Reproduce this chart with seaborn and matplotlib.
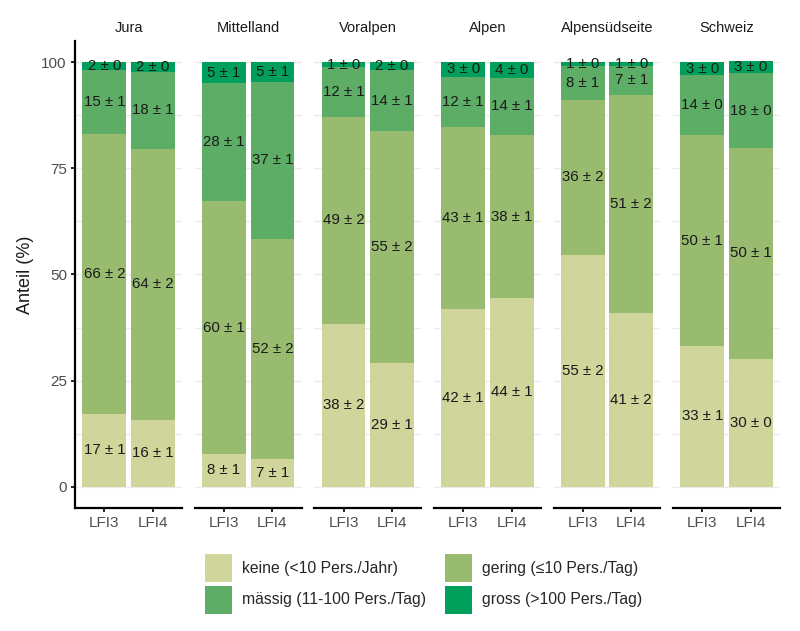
import matplotlib.pyplot as plt
import seaborn as sns
import numpy as np
from matplotlib.patches import Patch

regions = ["Jura", "Mittelland", "Voralpen", "Alpen", "Alpensüdseite", "Schweiz"]
surveys = ["LFI3", "LFI4"]

# shares (%) per region, order LFI3, LFI4
keine = [17.1, 15.7, 7.7, 6.6, 38.4, 29.1, 41.8, 44.4, 54.7, 41.0, 33.1, 30.2]
gering = [66.0, 63.9, 59.6, 51.8, 48.7, 54.7, 42.9, 38.4, 36.4, 51.2, 49.8, 49.6]
maessig = [15.0, 18.1, 27.8, 37.0, 11.7, 14.3, 11.9, 13.6, 8.0, 7.0, 14.0, 17.6]
gross = [1.9, 2.3, 4.9, 4.6, 1.2, 1.9, 3.4, 3.6, 0.9, 0.8, 3.1, 2.8]

# standard errors
keine_se = [1, 1, 1, 1, 2, 1, 1, 1, 2, 2, 1, 0]
gering_se = [2, 2, 1, 2, 2, 2, 1, 1, 2, 2, 1, 1]
maessig_se = [1, 1, 1, 1, 1, 1, 1, 1, 1, 1, 0, 0]
gross_se = [0, 0, 1, 1, 0, 0, 0, 0, 0, 0, 0, 0]

cat_labels = ["keine (<10 Pers./Jahr)", "gering (≤10 Pers./Tag)",
              "mässig (11-100 Pers./Tag)", "gross (>100 Pers./Tag)"]
colors = ["#D0D59B", "#98BB6F", "#5DAD66", "#009F5B"]

sns.set_style("white")
plt.rcParams["font.family"] = ["Liberation Sans", "DejaVu Sans"]

values = np.array([keine, gering, maessig, gross])
errors = np.array([keine_se, gering_se, maessig_se, gross_se])
cum = values.cumsum(axis=0)

fig, axes = plt.subplots(1, 6, figsize=(8, 6.31), dpi=100, sharey=True)
fig.subplots_adjust(left=0.094, right=0.975, top=0.935, bottom=0.195, wspace=0.12)

for i, ax in enumerate(axes):
    sl = slice(2 * i, 2 * i + 2)
    # draw cumulative stacks from top to bottom so lower ones overlay
    for k in range(3, -1, -1):
        sns.barplot(x=surveys, y=cum[k, sl], color=colors[k], ax=ax,
                    width=0.9, saturation=1, linewidth=0, zorder=2)
    for j in range(2):
        for k in range(4):
            v = values[k, 2 * i + j]
            mid = cum[k, 2 * i + j] - v / 2
            ax.text(j, mid, f"{round(v)} ± {errors[k, 2 * i + j]}", ha="center",
                    va="center", fontsize=10.8, color="#1a1a1a", zorder=3)
    ax.set_xlim(-0.6, 1.6)
    ax.set_ylim(-5, 105)
    ax.set_yticks([0, 25, 50, 75, 100])
    ax.set_yticks([12.5, 37.5, 62.5, 87.5], minor=True)
    ax.grid(True, which="both", axis="y", color="#ebebeb", linewidth=1, zorder=0)
    ax.set_axisbelow(True)
    ax.set_title(regions[i], fontsize=10.5, color="#1a1a1a", pad=6.5)
    ax.set_xlabel("")
    ax.set_ylabel("")
    for s in ["top", "right", "left"]:
        ax.spines[s].set_visible(False)
    ax.spines["bottom"].set_linewidth(1.6)
    ax.spines["bottom"].set_color("black")
    ax.tick_params(axis="x", bottom=True, length=3, width=1.2, color="black",
                   labelsize=11, labelcolor="#4d4d4d", pad=3)
    ax.tick_params(axis="y", which="both", left=False)

ax0 = axes[0]
ax0.spines["left"].set_visible(True)
ax0.spines["left"].set_linewidth(1.6)
ax0.spines["left"].set_color("black")
ax0.tick_params(axis="y", which="major", left=True, length=3, width=1.2,
                color="black", labelsize=11, labelcolor="#4d4d4d", pad=3)
ax0.tick_params(axis="y", which="minor", left=False)
ax0.set_ylabel("Anteil (%)", fontsize=13, color="#1a1a1a", labelpad=5)

handles = [Patch(facecolor=c, edgecolor="none") for c in colors]
order = [0, 2, 1, 3]
fig.legend([handles[o] for o in order], [cat_labels[o] for o in order],
           ncol=2, loc="center", bbox_to_anchor=(0.529, 0.0745), frameon=False,
           fontsize=11.3, handlelength=1.72, handleheight=2.37, handletextpad=0.64,
           columnspacing=1.2, labelspacing=0.2)

fig.savefig("out.png", dpi=100)
